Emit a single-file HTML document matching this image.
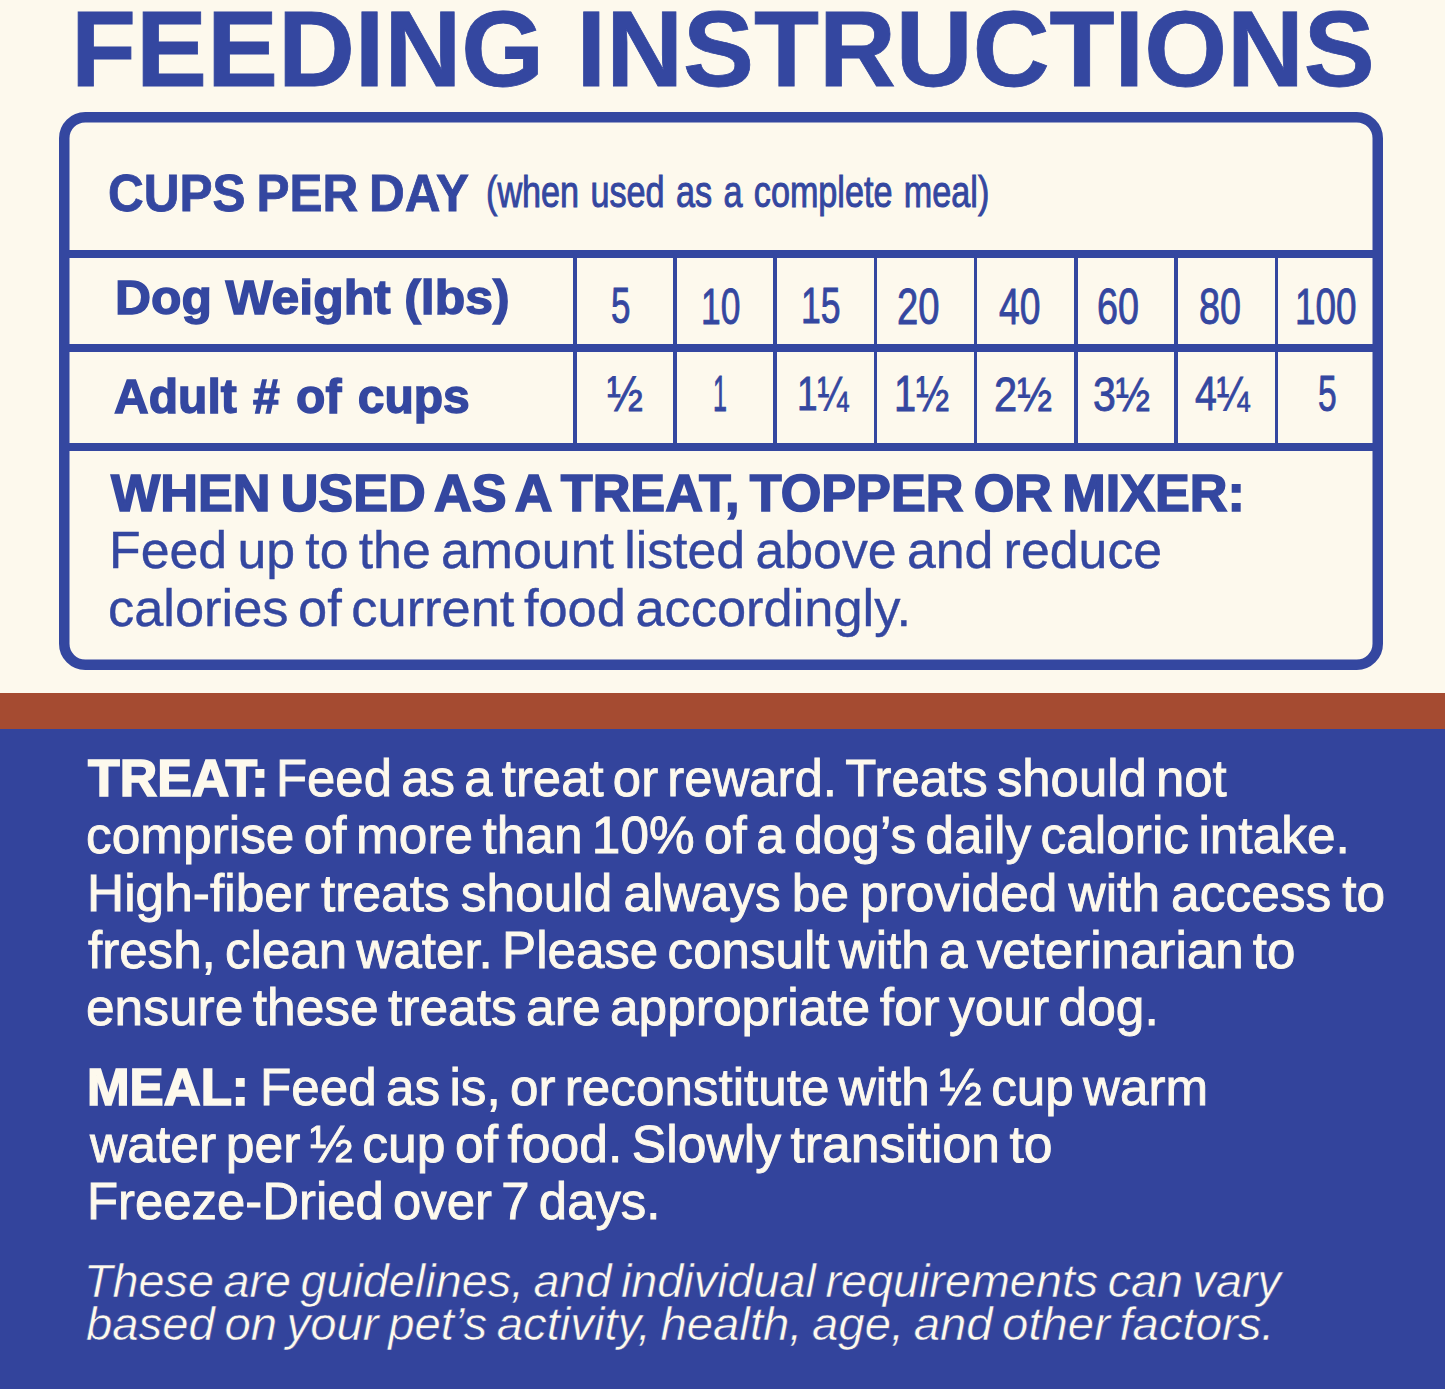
<!DOCTYPE html>
<html><head><meta charset="utf-8"><title>Feeding Instructions</title>
<style>
html,body{margin:0;padding:0;}
body{width:1445px;height:1389px;position:relative;overflow:hidden;background:#FDF9ED;font-family:"Liberation Sans",sans-serif;}
.t{position:absolute;white-space:nowrap;transform-origin:0 0;}
.box{position:absolute;left:59px;top:112px;width:1303.5px;height:537px;border:10.5px solid #3447A0;border-radius:26px;}
.h{position:absolute;left:65px;width:1312px;background:#3447A0;}
.v{position:absolute;top:255px;height:192px;width:3.5px;background:#3447A0;}
.rust{position:absolute;left:0;top:693px;width:1445px;height:35.5px;background:#A54B31;}
.bot{position:absolute;left:0;top:729px;width:1445px;height:660px;background:#33449C;}
</style></head><body>
<svg class="svgbox" width="1445" height="700" style="position:absolute;left:0;top:0"><rect x="64.25" y="117.25" width="1313.5" height="547.5" rx="21" ry="21" fill="none" stroke="#3447A0" stroke-width="10.5"/></svg>
<div class="h" style="top:250px;height:7.5px"></div>
<div class="h" style="top:344px;height:8px"></div>
<div class="h" style="top:443px;height:8px"></div>
<div class="v" style="left:573px"></div>
<div class="v" style="left:673px"></div>
<div class="v" style="left:773.3px"></div>
<div class="v" style="left:873.6px"></div>
<div class="v" style="left:973.7px"></div>
<div class="v" style="left:1074.3px"></div>
<div class="v" style="left:1174px"></div>
<div class="v" style="left:1274.8px"></div>

<div class="rust"></div>
<div class="bot"></div>
<div class="t" style="left:71.47px;top:-4.02px;font-size:107.5px;line-height:107.5px;color:#3447A0;font-weight:bold;word-spacing:3.0px;-webkit-text-stroke:0.8px #3447A0;transform:scaleX(0.9900);">FEEDING INSTRUCTIONS</div>
<div class="t" style="left:108.49px;top:167.02px;font-size:52.3px;line-height:52.3px;color:#3447A0;font-weight:bold;word-spacing:-3px;-webkit-text-stroke:0.8px #3447A0;transform:scaleX(0.9463);">CUPS PER DAY</div>
<div class="t" style="left:485.86px;top:168.70px;font-size:45px;line-height:45px;color:#3447A0;word-spacing:2.5px;-webkit-text-stroke:1.0px #3447A0;transform:scaleX(0.7593);">(when used as a complete meal)</div>
<div class="t" style="left:115.16px;top:273.11px;font-size:49px;line-height:49px;color:#3447A0;font-weight:bold;word-spacing:-0.25px;-webkit-text-stroke:1.4px #3447A0;transform:scaleX(1.0172);">Dog Weight (lbs)</div>
<div class="t" style="left:113.71px;top:372.21px;font-size:49px;line-height:49px;color:#3447A0;font-weight:bold;word-spacing:3px;-webkit-text-stroke:1.4px #3447A0;transform:scaleX(0.9806);">Adult # of cups</div>
<div class="t" style="left:610.52px;top:281.36px;font-size:50px;line-height:50px;color:#3447A0;-webkit-text-stroke:0.9px #3447A0;transform:scale(0.6988,1.0084);">5</div>
<div class="t" style="left:701.00px;top:282.53px;font-size:50px;line-height:50px;color:#3447A0;-webkit-text-stroke:0.9px #3447A0;transform:scale(0.7078,0.9810);">10</div>
<div class="t" style="left:801.19px;top:281.36px;font-size:50px;line-height:50px;color:#3447A0;-webkit-text-stroke:0.9px #3447A0;transform:scale(0.7117,1.0084);">15</div>
<div class="t" style="left:897.21px;top:282.53px;font-size:50px;line-height:50px;color:#3447A0;-webkit-text-stroke:0.9px #3447A0;transform:scale(0.7646,0.9810);">20</div>
<div class="t" style="left:998.59px;top:282.53px;font-size:50px;line-height:50px;color:#3447A0;-webkit-text-stroke:0.9px #3447A0;transform:scale(0.7448,0.9810);">40</div>
<div class="t" style="left:1096.53px;top:282.53px;font-size:50px;line-height:50px;color:#3447A0;-webkit-text-stroke:0.9px #3447A0;transform:scale(0.7551,0.9810);">60</div>
<div class="t" style="left:1199.03px;top:282.53px;font-size:50px;line-height:50px;color:#3447A0;-webkit-text-stroke:0.9px #3447A0;transform:scale(0.7551,0.9810);">80</div>
<div class="t" style="left:1295.12px;top:282.53px;font-size:50px;line-height:50px;color:#3447A0;-webkit-text-stroke:0.9px #3447A0;transform:scale(0.7382,0.9810);">100</div>
<div class="t" style="left:606.53px;top:369.51px;font-size:50px;line-height:50px;color:#3447A0;-webkit-text-stroke:0.9px #3447A0;transform:scale(0.8606,0.9861);">½</div>
<div class="t" style="left:712.72px;top:369.51px;font-size:50px;line-height:50px;color:#3447A0;-webkit-text-stroke:0.9px #3447A0;transform:scale(0.5021,0.9861);">1</div>
<div class="t" style="left:796.91px;top:369.70px;font-size:50px;line-height:50px;color:#3447A0;-webkit-text-stroke:0.9px #3447A0;transform:scale(0.7408,0.9593);">1¼</div>
<div class="t" style="left:893.97px;top:369.51px;font-size:50px;line-height:50px;color:#3447A0;-webkit-text-stroke:0.9px #3447A0;transform:scale(0.7945,0.9861);">1½</div>
<div class="t" style="left:993.51px;top:370.66px;font-size:50px;line-height:50px;color:#3447A0;-webkit-text-stroke:0.9px #3447A0;transform:scale(0.8330,0.9593);">2½</div>
<div class="t" style="left:1092.85px;top:370.66px;font-size:50px;line-height:50px;color:#3447A0;-webkit-text-stroke:0.9px #3447A0;transform:scale(0.8209,0.9593);">3½</div>
<div class="t" style="left:1194.57px;top:369.70px;font-size:50px;line-height:50px;color:#3447A0;-webkit-text-stroke:0.9px #3447A0;transform:scale(0.7849,0.9593);">4¼</div>
<div class="t" style="left:1317.96px;top:369.51px;font-size:50px;line-height:50px;color:#3447A0;-webkit-text-stroke:0.9px #3447A0;transform:scale(0.6707,0.9861);">5</div>
<div class="t" style="left:110.80px;top:466.70px;font-size:52.2px;line-height:52.2px;color:#3447A0;font-weight:bold;word-spacing:-4.25px;-webkit-text-stroke:1.6px #3447A0;transform:scaleX(0.9999);">WHEN USED AS A TREAT, TOPPER OR MIXER:</div>
<div class="t" style="left:109.23px;top:523.92px;font-size:52.3px;line-height:52.3px;color:#3447A0;word-spacing:-4.25px;-webkit-text-stroke:0.4px #3447A0;transform:scaleX(0.9916);">Feed up to the amount listed above and reduce</div>
<div class="t" style="left:107.90px;top:581.62px;font-size:52.3px;line-height:52.3px;color:#3447A0;word-spacing:-5px;-webkit-text-stroke:0.4px #3447A0;transform:scaleX(1.0018);">calories of current food accordingly.</div>
<div class="t" style="left:88.11px;top:753.42px;font-size:51px;line-height:51px;color:#FDF9ED;font-weight:bold;-webkit-text-stroke:1.6px #FDF9ED;transform:scaleX(1.0174);">TREAT:</div>
<div class="t" style="left:275.86px;top:751.95px;font-size:52.5px;line-height:52.5px;color:#FDF9ED;word-spacing:-5px;-webkit-text-stroke:0.9px #FDF9ED;transform:scaleX(0.9688);">Feed as a treat or reward. Treats should not</div>
<div class="t" style="left:86.28px;top:809.35px;font-size:52.5px;line-height:52.5px;color:#FDF9ED;word-spacing:-5px;-webkit-text-stroke:0.9px #FDF9ED;transform:scaleX(0.9786);">comprise of more than 10% of a dog’s daily caloric intake.</div>
<div class="t" style="left:86.92px;top:866.55px;font-size:52.5px;line-height:52.5px;color:#FDF9ED;word-spacing:-3.25px;-webkit-text-stroke:0.9px #FDF9ED;transform:scaleX(0.9797);">High-fiber treats should always be provided with access to</div>
<div class="t" style="left:88.24px;top:924.25px;font-size:52.5px;line-height:52.5px;color:#FDF9ED;word-spacing:-5px;-webkit-text-stroke:0.9px #FDF9ED;transform:scaleX(0.9729);">fresh, clean water. Please consult with a veterinarian to</div>
<div class="t" style="left:86.28px;top:980.75px;font-size:52.5px;line-height:52.5px;color:#FDF9ED;word-spacing:-5px;-webkit-text-stroke:0.9px #FDF9ED;transform:scaleX(0.9802);">ensure these treats are appropriate for your dog.</div>
<div class="t" style="left:87.29px;top:1062.02px;font-size:51px;line-height:51px;color:#FDF9ED;font-weight:bold;-webkit-text-stroke:1.6px #FDF9ED;transform:scaleX(1.0027);">MEAL:</div>
<div class="t" style="left:259.94px;top:1060.55px;font-size:52.5px;line-height:52.5px;color:#FDF9ED;word-spacing:-5px;-webkit-text-stroke:0.9px #FDF9ED;transform:scaleX(0.9750);">Feed as is, or reconstitute with ½ cup warm</div>
<div class="t" style="left:90.13px;top:1117.55px;font-size:52.5px;line-height:52.5px;color:#FDF9ED;word-spacing:-5px;-webkit-text-stroke:0.9px #FDF9ED;transform:scaleX(0.9837);">water per ½ cup of food. Slowly transition to</div>
<div class="t" style="left:87.26px;top:1175.05px;font-size:52.5px;line-height:52.5px;color:#FDF9ED;word-spacing:-5px;-webkit-text-stroke:0.9px #FDF9ED;transform:scaleX(0.9688);">Freeze-Dried over 7 days.</div>
<div class="t" style="left:83.78px;top:1257.63px;font-size:46.5px;line-height:46.5px;color:#FDF9ED;font-style:italic;word-spacing:-3.5px;-webkit-text-stroke:0.5px #33449C;transform:scaleX(1.0055);">These are guidelines, and individual requirements can vary</div>
<div class="t" style="left:86.00px;top:1300.63px;font-size:46.5px;line-height:46.5px;color:#FDF9ED;font-style:italic;word-spacing:-3.5px;-webkit-text-stroke:0.5px #33449C;transform:scaleX(1.0169);">based on your pet’s activity, health, age, and other factors.</div>
</body></html>
